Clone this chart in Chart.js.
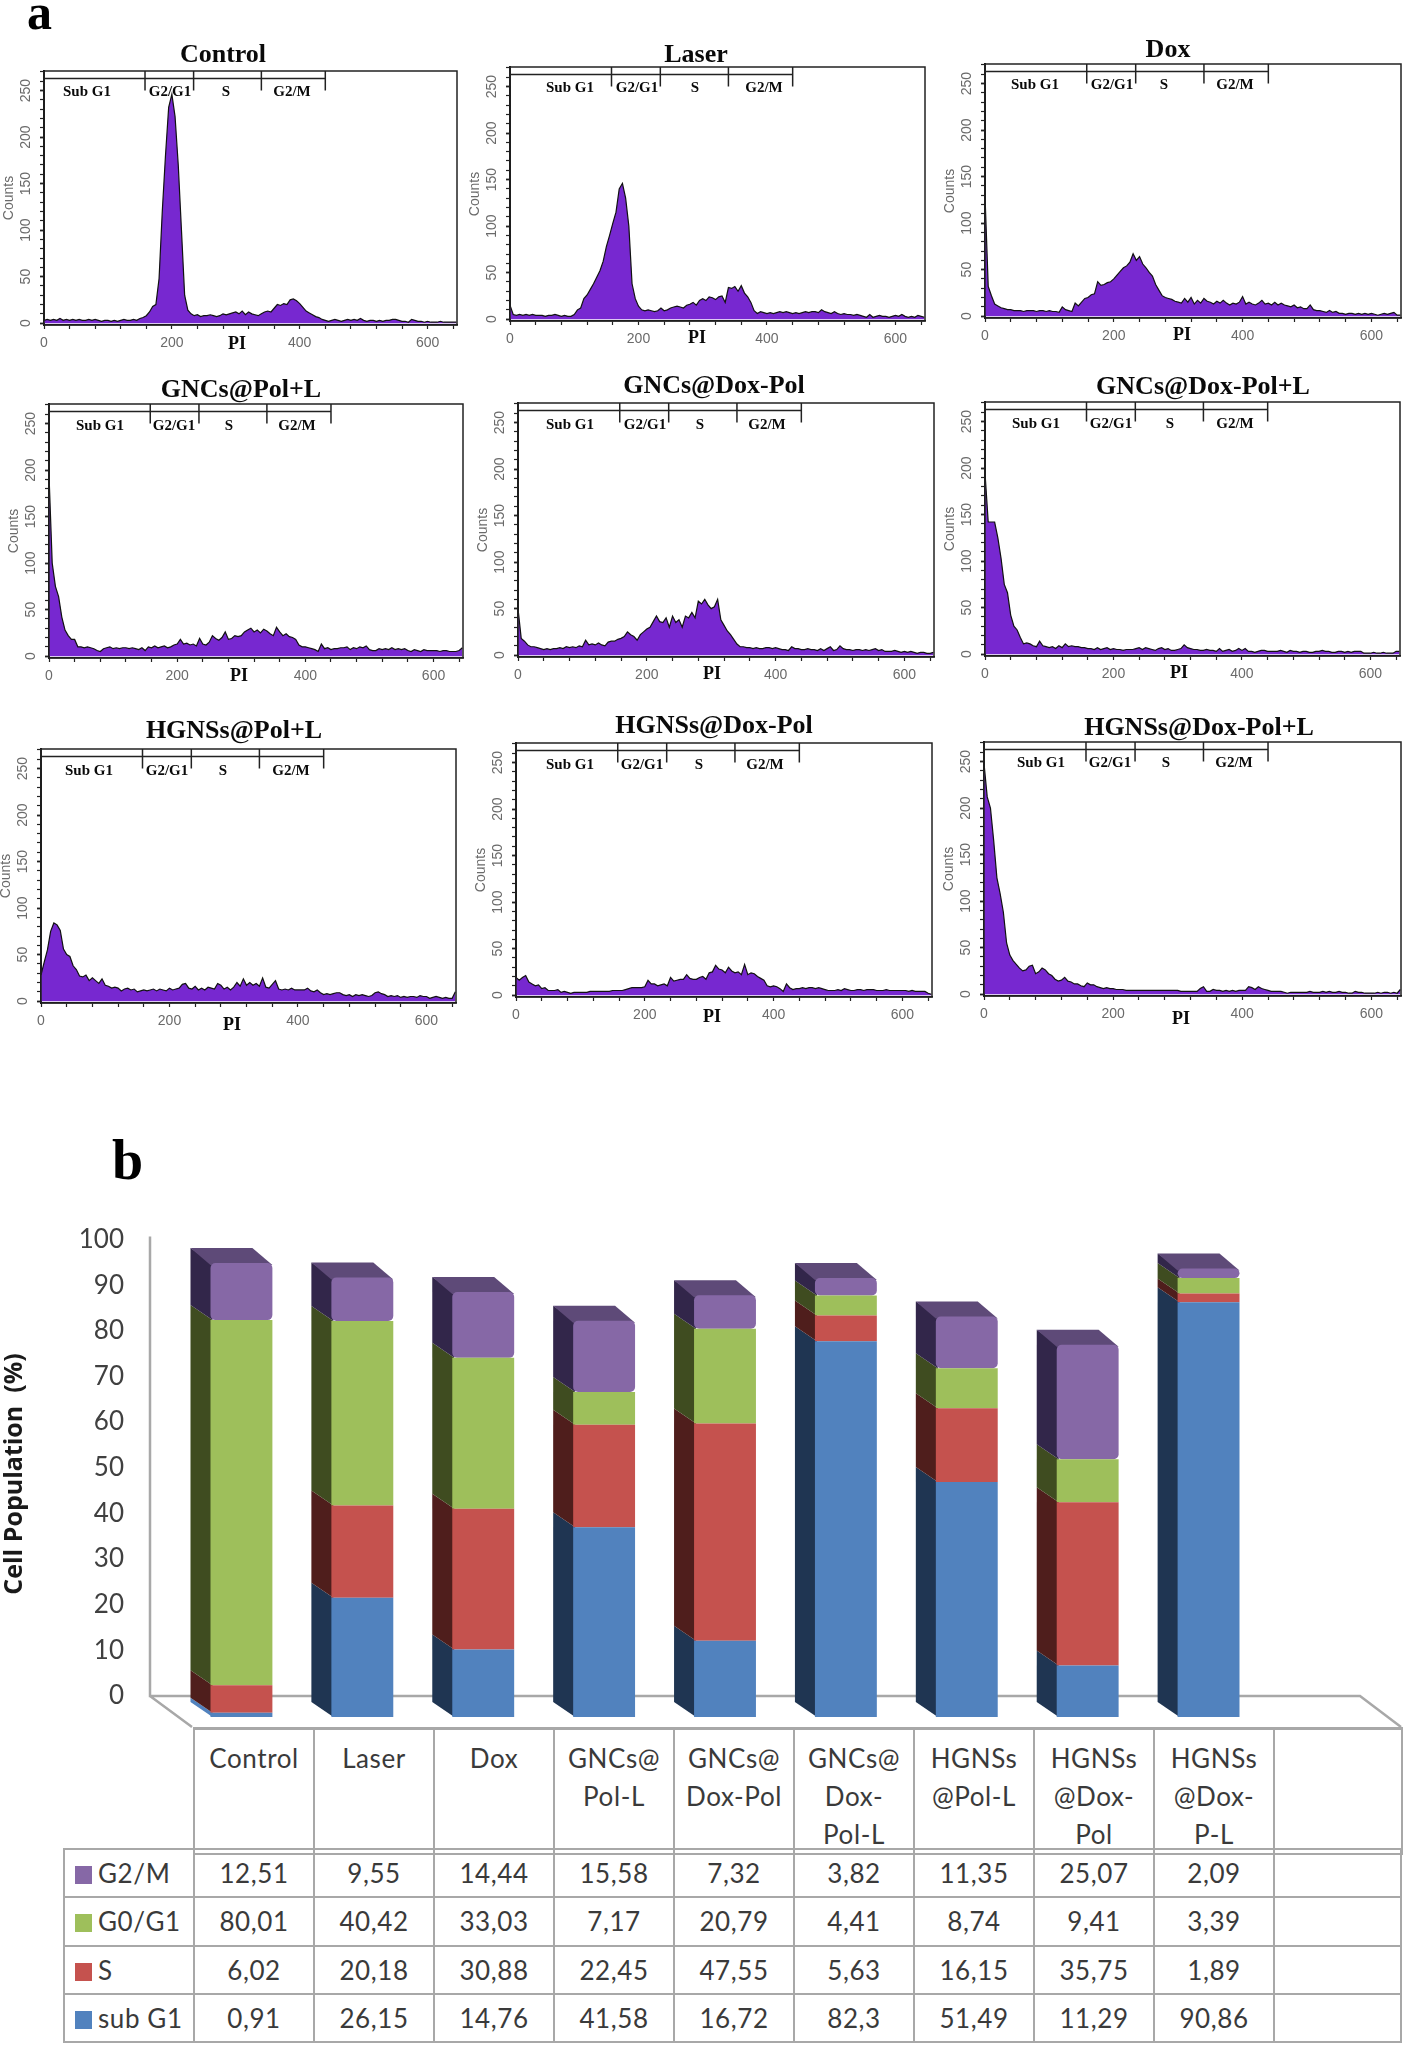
<!DOCTYPE html>
<html>
<head>
<meta charset="utf-8">
<title>Cell cycle</title>
<script src="https://cdn.jsdelivr.net/npm/chart.js@4"></script>
<style>
body { margin: 0; background: #fff; width: 1416px; height: 2045px; position: relative; overflow: hidden; }
canvas { position: absolute; }
.tag { position: absolute; font-family: "Liberation Serif", serif; font-weight: bold; color: #000; line-height: 1; }
table { position: absolute; border-collapse: collapse; table-layout: fixed; font-family: Lato, sans-serif; font-size: 26px; color: #3a3a3a; letter-spacing: 0.6px; }
td { border: 2px solid #a8a8a8; text-align: center; padding: 0; box-sizing: border-box; }
#head td { height: 123px; vertical-align: top; line-height: 38px; padding-top: 9px; border-top-width: 3px; }
#rows td { height: 48.3px; line-height: 30px; }
#rows td.key { text-align: left; padding-left: 10px; white-space: nowrap; }
.swatch { display: inline-block; width: 17px; height: 18px; margin-right: 6px; vertical-align: -1px; }
</style>
</head>
<body>
<div class="tag" style="left:27px;top:-13px;font-size:50px">a</div>
<div class="tag" style="left:112px;top:1132px;font-size:56px">b</div>
<table id="head" style="left:193px;top:1727px;width:1208px"></table>
<table id="rows" style="left:63px;top:1848px;width:1337px"></table>
<canvas id="stack"></canvas>

<script>
// histogram counts, one value per 5 PI units
const control = [
  3,4,3,4,3,5,3,4,3,4,
  3,4,3,3,4,3,4,3,2,3,
  3,2,3,2,3,4,3,3,4,3,
  5,6,8,12,18,20,48,120,180,232,
  246,222,170,100,30,14,10,8,9,7,
  8,8,9,8,7,8,10,9,10,11,
  12,10,13,9,12,10,9,8,10,12,
  13,12,16,20,19,21,20,25,26,24,
  21,17,13,11,9,7,6,4,3,2,
  3,4,3,2,3,4,3,4,3,5,
  3,2,3,3,2,3,2,3,3,4,
  4,3,2,2,1,4,3,2,2,1,
  2,1,1,1,2,1,1,1,1,1];
const laser = [
  15,5,4,5,4,5,4,5,4,4,
  4,3,4,4,5,4,3,4,3,3,
  5,10,12,22,26,32,38,45,52,62,
  78,90,103,115,140,146,130,100,38,22,
  14,10,9,10,9,8,9,12,9,10,
  12,13,14,13,12,15,16,18,15,20,
  22,20,24,23,21,24,25,18,34,33,
  35,30,36,28,24,18,9,6,8,7,
  6,7,6,7,8,7,8,7,6,7,
  6,7,8,7,8,8,7,10,8,7,
  6,8,6,5,6,5,5,4,5,4,
  3,2,5,2,3,4,3,3,2,3,
  4,3,5,3,2,3,2,4,3,2];
const dox = [
  130,32,22,13,11,9,8,7,7,6,
  6,6,5,6,6,6,5,6,6,5,
  6,5,5,4,10,7,6,5,14,11,
  15,19,20,23,24,37,33,34,36,37,
  40,44,48,52,54,58,67,60,64,56,
  52,47,43,34,28,22,20,19,18,16,
  15,14,19,15,20,13,17,14,19,16,
  15,13,16,14,17,14,12,14,13,15,
  21,13,15,13,12,14,17,13,14,12,
  15,12,14,12,11,10,12,9,10,8,
  8,12,7,6,6,5,4,6,4,5,
  3,3,2,3,3,2,3,2,3,2,
  3,2,1,2,3,2,3,4,1,1];
const gncPolL = [
  195,100,75,64,42,28,22,18,18,10,
  10,9,10,9,8,6,5,8,9,10,
  8,9,8,9,9,8,9,8,7,9,
  6,10,9,11,9,10,11,9,10,12,
  13,18,13,14,12,13,11,19,13,12,
  15,22,19,17,20,26,18,19,22,21,
  22,26,28,30,26,28,25,29,27,24,
  22,31,26,22,24,21,20,18,12,10,
  10,9,8,7,5,13,8,9,7,8,
  8,9,9,10,7,9,8,10,9,11,
  7,6,6,8,7,8,7,9,7,8,
  7,8,6,5,7,6,5,7,6,6,
  6,6,5,6,6,5,5,5,6,9];
const gncDoxPol = [
  50,18,15,11,9,9,8,7,6,7,
  6,7,7,8,7,9,8,9,8,10,
  9,16,11,12,11,13,11,10,14,15,
  15,17,18,20,25,22,20,16,22,25,
  28,30,36,42,36,35,40,30,42,35,
  38,30,42,40,46,40,58,55,60,54,
  50,52,60,38,32,26,22,17,12,9,
  9,8,8,7,8,7,7,8,8,7,
  8,7,6,6,5,9,7,7,6,6,
  7,6,6,5,7,5,7,9,5,6,
  10,7,6,6,5,6,6,5,6,5,
  6,7,5,6,4,4,4,5,4,3,
  4,3,4,3,2,3,3,2,2,3];
const gncDoxPolL = [
  195,142,142,142,125,103,75,66,42,30,
  26,18,11,12,11,9,8,14,9,8,
  7,8,6,9,7,11,8,9,8,8,
  7,7,6,6,5,7,5,6,7,5,
  6,5,5,4,5,5,5,6,7,5,
  7,6,5,4,6,7,5,6,4,4,
  5,6,10,7,6,5,5,4,4,5,
  4,4,3,6,3,4,5,3,4,6,
  4,6,3,3,2,3,4,4,3,3,
  3,3,4,3,2,4,3,3,2,3,
  3,2,2,3,3,4,3,3,2,2,
  3,3,2,3,2,3,3,3,1,1,
  1,2,1,1,2,1,1,1,3,3];
const hgnPolL = [
  28,42,55,75,84,82,76,56,50,48,
  38,34,27,26,28,22,25,22,19,24,
  17,16,14,15,14,11,13,14,12,13,
  10,11,12,11,12,13,11,13,12,11,
  14,12,13,14,18,19,14,13,16,12,
  14,12,15,14,13,19,17,13,15,12,
  15,20,16,24,17,20,17,19,16,25,
  15,14,18,22,13,12,13,12,14,12,
  12,12,12,14,11,10,12,9,7,8,
  7,8,9,9,7,6,7,5,7,6,
  7,6,5,6,9,10,8,7,5,6,
  5,6,4,5,4,5,5,4,6,5,
  5,3,4,5,4,3,4,3,3,10];
const hgnDoxPol = [
  19,16,19,21,14,12,10,11,7,8,
  5,5,5,6,3,4,3,2,3,3,
  3,3,3,4,4,4,4,4,4,4,
  5,5,5,5,6,7,8,8,8,8,
  9,16,12,12,10,11,12,10,19,15,
  16,17,17,22,18,17,17,19,20,17,
  24,25,32,28,27,24,30,26,24,25,
  22,33,22,24,23,20,18,16,10,9,
  10,9,7,4,12,8,6,7,7,8,
  7,8,8,7,8,7,6,5,5,5,
  6,5,7,6,5,5,6,6,5,6,
  6,6,5,5,5,6,5,5,5,5,
  5,5,4,5,4,4,4,4,2,1];
const hgnDoxPolL = [
  248,212,200,165,125,108,88,55,42,36,
  32,28,25,26,30,31,22,24,28,26,
  22,20,16,14,15,18,14,13,11,11,
  9,8,12,10,10,8,7,6,7,6,
  6,5,5,5,4,4,4,4,4,4,
  4,4,4,4,4,4,4,4,4,4,
  4,3,3,3,3,3,3,6,8,3,
  3,5,4,4,3,4,3,4,3,4,
  4,4,8,7,5,8,6,5,4,3,
  3,3,3,2,1,2,2,2,2,2,
  2,3,2,2,2,3,2,3,2,2,
  3,2,2,1,1,3,2,2,1,1,
  1,1,2,1,2,2,1,2,1,5];

const binWidth = 5;
const countTicks = [0,10,20,30,40,50,60,70,80,90,100,110,120,130,140,150,160,170,180,190,200,210,220,230,240,250,260,270];
const piTicks = [0,40,80,120,160,200,240,280,320,360,400,440,480,520,560,600,640];
const gateEdges = [0,158,234,340,440];
const gateLabels = ['Sub G1','G2/G1','S','G2/M'];

// stacked bars
const categories = [['Control'],['Laser'],['Dox'],['GNCs@','Pol-L'],['GNCs@','Dox-Pol'],['GNCs@','Dox-','Pol-L'],['HGNSs','@Pol-L'],['HGNSs','@Dox-','Pol'],['HGNSs','@Dox-','P-L']];
const subG1 = [0.91,26.15,14.76,41.58,16.72,82.3,51.49,11.29,90.86];
const sPhase = [6.02,20.18,30.88,22.45,47.55,5.63,16.15,35.75,1.89];
const g0g1 = [80.01,40.42,33.03,7.17,20.79,4.41,8.74,9.41,3.39];
const g2m = [12.51,9.55,14.44,15.58,7.32,3.82,11.35,25.07,2.09];
const percentTicks = [0,10,20,30,40,50,60,70,80,90,100];

// where each small panel sits on the page
const panels = [
  {title:'Control', counts:control, left:44, top:71, width:413, titleX:223, titleY:62, piX:237, piY:349, labelX:[43,126,182,248], labelY:25},
  {title:'Laser', counts:laser, left:510, top:67, width:415, titleX:696, titleY:62, piX:697, piY:343, labelX:[60,127,185,254], labelY:25},
  {title:'Dox', counts:dox, left:985, top:64, width:416, titleX:1168, titleY:57, piX:1182, piY:340, labelX:[50,127,179,250], labelY:25},
  {title:'GNCs@Pol+L', counts:gncPolL, left:49, top:404, width:414, titleX:241, titleY:397, piX:239, piY:681, labelX:[51,125,180,248], labelY:26},
  {title:'GNCs@Dox-Pol', counts:gncDoxPol, left:518, top:403, width:416, titleX:714, titleY:393, piX:712, piY:679, labelX:[52,127,182,249], labelY:26},
  {title:'GNCs@Dox-Pol+L', counts:gncDoxPolL, left:985, top:402, width:415, titleX:1203, titleY:394, piX:1179, piY:678, labelX:[51,126,185,250], labelY:26},
  {title:'HGNSs@Pol+L', counts:hgnPolL, left:41, top:749, width:415, titleX:234, titleY:738, piX:232, piY:1030, labelX:[48,126,182,250], labelY:26},
  {title:'HGNSs@Dox-Pol', counts:hgnDoxPol, left:516, top:743, width:416, titleX:714, titleY:733, piX:712, piY:1022, labelX:[54,126,183,249], labelY:26},
  {title:'HGNSs@Dox-Pol+L', counts:hgnDoxPolL, left:984, top:742, width:417, titleX:1199, titleY:735, piX:1181, piY:1024, labelX:[57,126,182,250], labelY:25}
];

const axisW = 43, padTop = 40, padRight = 20, plotH = 254, axisH = 44, padBottom = 6;
const grey = '#6a6a6a';

function gateLine() {
  const pts = [{x: gateEdges[0], y: 263}, {x: gateEdges[gateEdges.length - 1], y: 263}, {x: 0, y: null}];
  gateEdges.forEach(e => pts.push({x: e, y: 271}, {x: e, y: 250}, {x: e, y: null}));
  return pts;
}

function panelText(p) {
  return {
    id: 'panelText',
    afterDraw(chart) {
      const c = chart.ctx, a = chart.chartArea;
      const ox = p.left - axisW, oy = p.top - padTop;
      c.save();
      c.strokeStyle = '#222';
      c.lineWidth = 1.5;
      c.strokeRect(a.left, a.top, a.width, a.height);
      c.fillStyle = '#0a0a0a';
      c.textAlign = 'center';
      c.textBaseline = 'alphabetic';
      c.font = "bold 26px 'Liberation Serif'";
      c.fillText(p.title, p.titleX - ox, p.titleY - oy);
      c.font = "bold 18px 'Liberation Serif'";
      c.fillText('PI', p.piX - ox, p.piY - oy);
      c.font = "bold 15px 'Liberation Serif'";
      gateLabels.forEach((t, i) => c.fillText(t, a.left + p.labelX[i], a.top + p.labelY));
      c.restore();
    }
  };
}

panels.forEach(p => {
  const cv = document.createElement('canvas');
  cv.width = axisW + p.width + padRight;
  cv.height = padTop + plotH + axisH + padBottom;
  cv.style.left = (p.left - axisW) + 'px';
  cv.style.top = (p.top - padTop) + 'px';
  document.body.appendChild(cv);
  new Chart(cv.getContext('2d'), {
    type: 'line',
    data: {
      datasets: [{
        data: gateLine(),
        borderColor: '#222',
        borderWidth: 1.5,
        pointRadius: 0,
        clip: false
      }, {
        data: p.counts.map((v, i) => ({x: i * binWidth, y: v})),
        fill: 'origin',
        backgroundColor: '#7728D0',
        borderColor: '#111',
        borderWidth: 1.2,
        pointRadius: 0
      }]
    },
    options: {
      responsive: false,
      animation: false,
      layout: {padding: {top: padTop, right: padRight, bottom: padBottom, left: 0}},
      plugins: {legend: {display: false}, tooltip: {enabled: false}},
      scales: {
        x: {
          type: 'linear', min: 0, max: 646,
          afterBuildTicks: s => { s.ticks = piTicks.map(v => ({value: v})); },
          afterFit: s => { s.height = axisH; },
          border: {color: '#111', width: 1.5},
          grid: {drawOnChartArea: false, tickLength: 4, tickColor: '#222', tickWidth: 1.2},
          ticks: {
            autoSkip: false, maxRotation: 0, minRotation: 0, padding: 6,
            color: grey, font: {family: 'Liberation Sans', size: 14},
            callback: v => v % 200 === 0 ? String(v) : ''
          }
        },
        y: {
          min: -2, max: 271,
          afterBuildTicks: s => { s.ticks = countTicks.map(v => ({value: v})); },
          afterFit: s => { s.width = axisW; },
          border: {color: '#111', width: 2},
          grid: {drawOnChartArea: false, tickLength: 4, tickColor: '#222', tickWidth: c => c.tick && c.tick.value % 50 === 0 ? 1.8 : 1.2},
          title: {display: true, text: 'Counts', color: grey, padding: 0, font: {family: 'Liberation Sans', size: 14}},
          ticks: {
            autoSkip: false, minRotation: 90, maxRotation: 90, crossAlign: 'center', padding: 2,
            color: grey, font: {family: 'Liberation Sans', size: 14},
            callback: v => v % 50 === 0 ? String(v) : ''
          }
        }
      }
    },
    plugins: [panelText(p)]
  });
});

// 3D look of the spreadsheet chart: side and top faces, walls and floor
const depthX = 20, depthY = 15;
const frontColors = ['#5182BE', '#C5524E', '#9EBF5B', '#8668A6'];
const sideColors = ['#1F3552', '#4F1E1C', '#3F4C20', '#32264A'];
const topColor = '#5E4A78';
const wallColor = '#a8a8a8';

const bar3d = {
  id: 'bar3d',
  beforeDatasetsDraw(chart) {
    const c = chart.ctx, a = chart.chartArea, back = chart.scales.yBack;
    const backY = back.getPixelForValue(0), wallTop = back.getPixelForValue(100) - 3;
    const wallX = a.left - 31, floorRight = a.right + 132, floorFront = a.bottom + 1;
    c.save();
    c.strokeStyle = wallColor;
    c.lineWidth = 2.5;
    c.beginPath();
    c.moveTo(wallX, wallTop);
    c.lineTo(wallX, backY);
    c.lineTo(floorRight - 41, backY);
    c.lineTo(floorRight, floorFront);
    c.moveTo(wallX, backY);
    c.lineTo(a.left + 11, floorFront);
    c.stroke();
    const last = chart.data.datasets.length - 1;
    chart.data.datasets.forEach((ds, i) => {
      chart.getDatasetMeta(i).data.forEach(bar => {
        const l = bar.x - bar.width / 2, r = l + bar.width;
        // a very thin segment shows as a bright sliver, not a dark side
        c.fillStyle = bar.base - bar.y < 6 ? frontColors[i] : sideColors[i];
        c.beginPath();
        c.moveTo(l + 2, bar.y);
        c.lineTo(l - depthX, bar.y - depthY);
        c.lineTo(l - depthX, bar.base - depthY);
        c.lineTo(l + 2, bar.base);
        c.closePath();
        c.fill();
        if (i === last) {
          c.fillStyle = topColor;
          c.beginPath();
          c.moveTo(l, bar.y + 2);
          c.lineTo(l - depthX, bar.y - depthY);
          c.lineTo(r - depthX, bar.y - depthY);
          c.lineTo(r, bar.y + 2);
          c.closePath();
          c.fill();
        }
      });
    });
    c.restore();
  }
};

const stackCanvas = document.getElementById('stack');
stackCanvas.width = 1416;
stackCanvas.height = 570;
stackCanvas.style.left = '0px';
stackCanvas.style.top = '1180px';

const segment = (label, data, color) => ({
  label, data, backgroundColor: color,
  yAxisID: 'y',
  borderRadius: 5, borderSkipped: false,
  categoryPercentage: 1, barPercentage: 0.512
});

new Chart(stackCanvas.getContext('2d'), {
  type: 'bar',
  data: {
    labels: categories.map(c => c.join(' ')),
    datasets: [
      segment('sub G1', subG1, frontColors[0]),
      segment('S', sPhase, frontColors[1]),
      segment('G0/G1', g0g1, frontColors[2]),
      segment('G2/M', g2m, frontColors[3])
    ]
  },
  options: {
    responsive: false,
    animation: false,
    // bottom padding has to stay above half a tick label or the plot gets squeezed
    layout: {padding: {left: 0, top: 42, right: 147, bottom: 24}},
    plugins: {legend: {display: false}, tooltip: {enabled: false}},
    scales: {
      x: {stacked: true, display: false},
      y: {stacked: true, display: false, min: -1.97, max: 108.43},
      yBack: {
        position: 'left', min: -6.57, max: 103.83,
        afterBuildTicks: s => { s.ticks = percentTicks.map(v => ({value: v})); },
        afterFit: s => { s.width = 181; },
        // long transparent ticks push the labels out to the wall, ticks.padding would shrink the plot
        grid: {drawOnChartArea: false, drawTicks: true, tickLength: 57, tickColor: 'transparent'},
        border: {display: false},
        title: {display: true, text: 'Cell Population  (%)', color: '#1a1a1a', padding: 0, font: {family: 'Open Sans', size: 25, weight: 'bold'}},
        ticks: {autoSkip: false, padding: 0, color: '#404040', font: {family: 'Lato', size: 26}}
      }
    }
  },
  plugins: [bar3d]
});

// data table under the bars, built from the same arrays
const rowDefs = [['G2/M', g2m, frontColors[3]], ['G0/G1', g0g1, frontColors[2]], ['S', sPhase, frontColors[1]], ['sub G1', subG1, frontColors[0]]];
const colWidth = 120;
const colgroup = n => '<col style="width:' + n + 'px">';
document.getElementById('head').innerHTML =
  colgroup(colWidth).repeat(categories.length) + colgroup(128) +
  '<tr>' + categories.map(c => '<td>' + c.join('<br>') + '</td>').join('') + '<td></td></tr>';
document.getElementById('rows').innerHTML =
  colgroup(130) + colgroup(colWidth).repeat(categories.length) + colgroup(127) +
  rowDefs.map(r => '<tr><td class="key"><span class="swatch" style="background:' + r[2] + '"></span>' + r[0] + '</td>' +
    r[1].map(v => '<td>' + String(v).replace('.', ',') + '</td>').join('') + '<td></td></tr>').join('');
</script>
</body>
</html>
